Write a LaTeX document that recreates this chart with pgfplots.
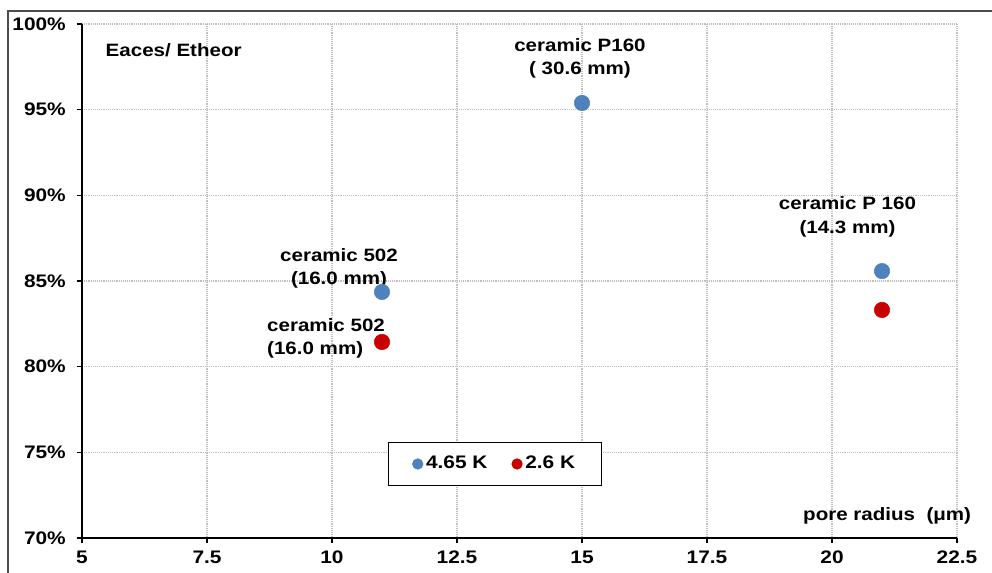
\documentclass[border=0pt]{standalone}
\usepackage{fontspec}
\setmainfont{Liberation Sans}[FakeStretch=1.15]
\usepackage{pgfplots}
\pgfplotsset{compat=1.18}
\definecolor{cblue}{RGB}{79,129,189}
\definecolor{cred}{RGB}{200,0,0}
\begin{document}
\bfseries\fontsize{13.4}{17.4}\selectfont
\begin{tikzpicture}
\begin{axis}[
  scale only axis,
  width=656.25pt, height=385.5pt,
  xmin=5, xmax=22.5, ymin=70, ymax=100,
  axis x line=bottom, axis y line=left,
  axis line style={-, line width=1.3pt, black},
  xtick={5,7.5,10,12.5,15,17.5,20,22.5},
  xticklabels={5,7.5,10,12.5,15,17.5,20,22.5},
  ytick={70,75,80,85,90,95,100},
  yticklabels={70\%,75\%,80\%,85\%,90\%,95\%,100\%},
  tick align=outside,
  major tick length=4pt,
  tick style={black, line width=1pt},
  grid=major,
  major grid style={gray!50, densely dotted, line width=0.8pt},
  tick label style={font=\bfseries\fontsize{13.6}{15}\selectfont},
  yticklabel style={xshift=-3.5pt},
  xticklabel style={yshift=-4.5pt, inner ysep=1pt, font=\bfseries\fontsize{13.6}{15}\selectfont},
  legend columns=2,
  legend style={at={(rel axis cs:0.472,0.144)}, anchor=center, draw=black, line width=0.8pt,
    font=\bfseries\fontsize{13.6}{15}\selectfont, inner xsep=18pt, inner ysep=8.5pt,
    /tikz/every even column/.append style={column sep=16pt}},
  legend image code/.code={\fill[#1] (0.2cm,0cm) circle (3.8pt);},
  clip=false,
]
\addplot[only marks, mark=*, mark size=5.8pt, color=cblue, mark options={draw=cblue, fill=cblue}]
  coordinates {(11,84.36) (15,95.39) (21,85.58)};
\addlegendentry{4.65 K}
\addplot[only marks, mark=*, mark size=5.8pt, color=cred, mark options={draw=cred, fill=cred}]
  coordinates {(11,81.44) (21,83.31)};
\addlegendentry{2.6 K}
\node[anchor=west] at (axis cs:5.35,98.48) {Eaces/ Etheor};
\node[align=center] at (axis cs:14.96,97.99) {ceramic P160\\( 30.6 mm)};
\node[align=center] at (axis cs:20.31,88.74) {ceramic P 160\\(14.3 mm)};
\node[align=center] at (axis cs:10.14,85.73) {ceramic 502\\(16.0 mm)};
\node[align=left, anchor=west] at (axis cs:8.58,81.64) {ceramic 502\\(16.0 mm)};
\node[anchor=west] at (axis cs:19.3,71.28) {pore radius\ \ (μm)};
\end{axis}
\draw[gray!60!black, line width=1pt] (740pt,395.25pt) -- (-55.5pt,395.25pt) -- (-55.5pt,-40pt);
\pgfresetboundingbox
\path[use as bounding box] (-61.5pt,-26.25pt) rectangle (682.5pt,403.5pt);
\end{tikzpicture}
\end{document}
